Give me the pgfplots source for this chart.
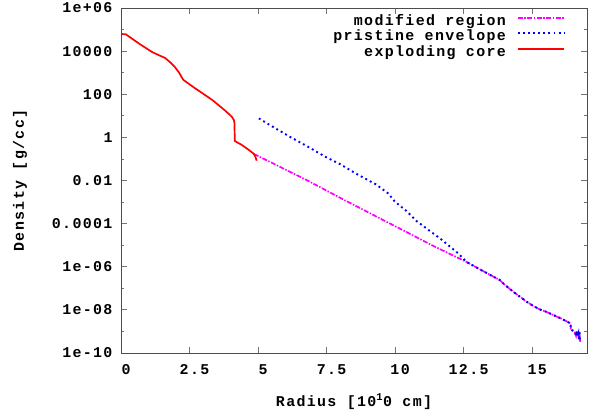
\documentclass[border=0pt]{standalone}
\usepackage{fontspec}
\setmainfont{Liberation Mono}[LetterSpace=9]
\usepackage{pgfplots}
\pgfplotsset{compat=1.18}
\definecolor{gpmag}{RGB}{255,0,255}
\definecolor{gpblue}{RGB}{0,0,255}
\definecolor{gpred}{RGB}{255,0,0}
\begin{document}
\begin{tikzpicture}[font=\bfseries\fontsize{15}{17}\selectfont]
\useasboundingbox (0,0) rectangle (598bp,415bp);
\begin{semilogyaxis}[
  at={(121bp,62bp)}, anchor=south west,
  scale only axis, width=466bp, height=345bp,
  xmin=0, xmax=17, ymin=1e-10, ymax=1e6,
  xtick={0,2.5,5,7.5,10,12.5,15},
  xticklabels={0,2.5,5,7.5,10,12.5,15},
  ytick={1e-10,1e-8,1e-6,1e-4,1e-2,1,1e2,1e4,1e6},
  yticklabels={1e-10,1e-08,1e-06,0.0001,0.01,1,100,10000,1e+06},
  minor ytick={1e-9,1e-7,1e-5,1e-3,1e-1,1e1,1e3,1e5},
  tick align=inside,
  major tick length=6bp, minor tick length=3bp,
  every tick/.style={black!55, line width=0.8bp},
  axis line style={black!70, line width=0.9bp},
  xticklabel style={xshift=5bp, yshift=-8bp},
  yticklabel style={xshift=-5bp},
  xlabel={Radius [10\textsuperscript{1}0 cm]},
  ylabel={Density [g/cc]},
  xlabel style={at={(axis description cs:0.5,-0.141)}, anchor=center},
  ylabel style={at={(axis description cs:-0.2167,0.5)}, anchor=center},
  legend style={draw=none, fill=none, at={(axis description cs:0.9528,0.982)}, anchor=north east,
    inner sep=0pt, row sep=0.5bp, column sep=11bp,
    nodes={inner sep=0pt, text height=11bp, text depth=4bp}},
  legend cell align=right,
  legend plot pos=right,
  legend image code/.code={\draw[#1] (0bp,4bp) -- (46bp,4bp);},
]
% modified region
\addplot[gpmag, line width=1.7bp, dash pattern=on 5bp off 1.5bp on 1.5bp off 1.5bp] coordinates {
(4.85,0.17) (6.77,1.05e-2) (7.99,1.58e-3) (9.45,1.74e-4) (10.17,5.9e-5) (11.39,9.3e-6) (12.61,1.66e-6)
(13.09,7.6e-7) (13.45,4.3e-7) (13.82,2.4e-7) (13.94,1.7e-7) (14.31,6.9e-8) (14.80,2.4e-8)
(15.04,1.51e-8) (15.28,1.05e-8) (15.52,8.1e-9) (15.77,5.75e-9) (16.05,4.0e-9) (16.31,2.7e-9)
(16.40,2.35e-9) (16.41,1.2e-9) (16.50,1.07e-9) (16.56,8.9e-10) (16.60,6.3e-10) (16.63,1.05e-9)
(16.66,5.6e-10) (16.69,7.9e-10) (16.71,4.0e-10) (16.73,8.9e-10) (16.75,3.3e-10)
};
\addlegendentry{modified region}
% pristine envelope
\addplot[gpblue, line width=1.9bp, dash pattern=on 1.9bp off 3.2bp] coordinates {
(5.03,7.6) (5.5,3.3) (6.16,1.07) (6.8,0.38) (7.50,0.117) (7.99,0.0575) (8.6,0.02) (9.3,6.6e-3)
(9.75,2.5e-3) (9.99,1.05e-3) (10.4,4.0e-4) (10.78,1.32e-4) (11.39,3.5e-5) (11.63,2.1e-5)
(12.30,4.2e-6) (12.61,1.66e-6)
(13.09,7.6e-7) (13.45,4.3e-7) (13.82,2.4e-7) (13.94,1.7e-7) (14.31,6.9e-8) (14.80,2.4e-8)
(15.04,1.51e-8) (15.28,1.05e-8) (15.52,8.1e-9) (15.77,5.75e-9) (16.05,4.0e-9) (16.31,2.7e-9)
(16.40,2.35e-9) (16.41,1.2e-9) (16.50,1.07e-9) (16.56,8.9e-10) (16.60,6.3e-10) (16.63,1.05e-9)
(16.66,5.6e-10) (16.69,7.9e-10) (16.71,4.0e-10) (16.73,8.9e-10) (16.75,3.3e-10)
};
\addlegendentry{pristine envelope}
% exploding core
\addplot[gpred, line width=1.7bp] coordinates {
(0,6.2e4) (0.17,6.1e4) (0.4,3.8e4) (0.69,2.1e4) (1.12,9.3e3) (1.40,6.3e3) (1.60,4.9e3)
(1.80,3.0e3) (1.97,1.8e3) (2.12,1.0e3) (2.27,470) (2.45,320) (2.70,190) (3.00,105) (3.35,52)
(3.55,32) (3.79,17.8) (3.95,11.7) (4.04,9.1) (4.12,6.3) (4.14,4.5) (4.15,0.68) (4.40,0.45)
(4.60,0.30) (4.83,0.18) (4.90,0.13) (4.95,0.083)
};
\addlegendentry{exploding core}
\end{semilogyaxis}
\end{tikzpicture}
\end{document}
